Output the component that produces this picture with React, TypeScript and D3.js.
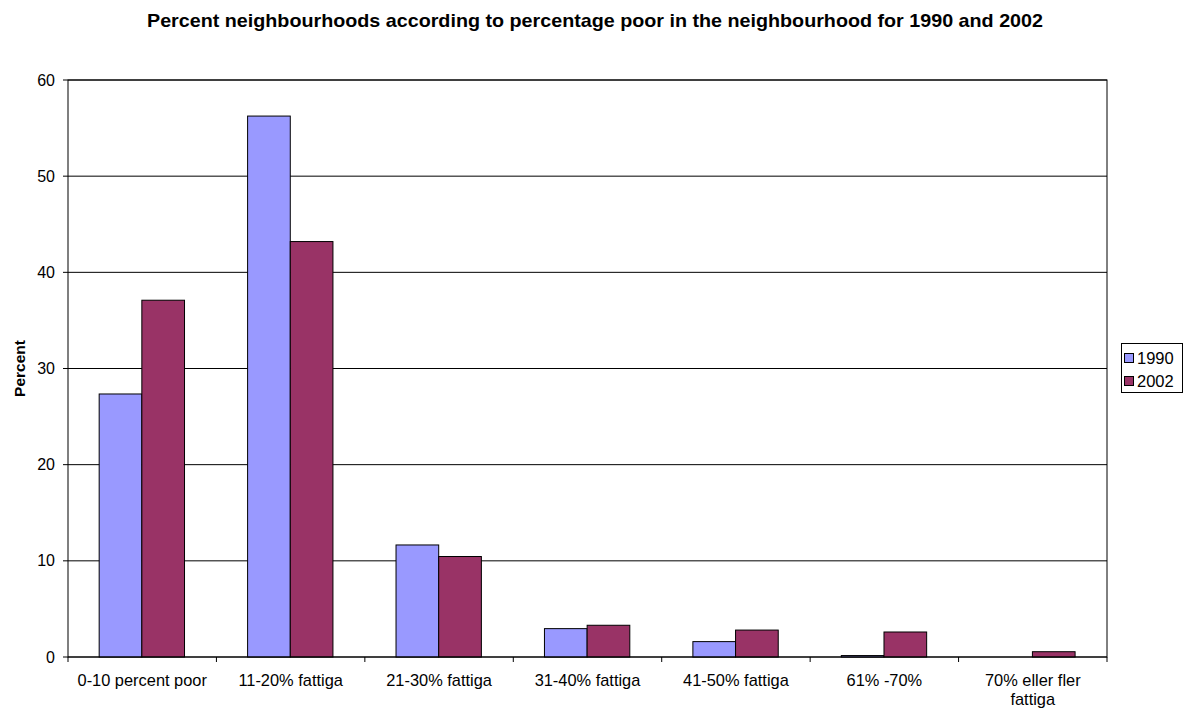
import React from "react";
import * as d3 from "d3";

const categories = [
  ["0-10 percent poor"],
  ["11-20% fattiga"],
  ["21-30% fattiga"],
  ["31-40% fattiga"],
  ["41-50% fattiga"],
  ["61% -70%"],
  ["70% eller fler", "fattiga"],
];
const series1990 = [27.35, 56.25, 11.65, 2.95, 1.6, 0.15, 0];
const series2002 = [37.1, 43.2, 10.45, 3.3, 2.8, 2.6, 0.55];
const seriesNames = ["1990", "2002"];
const seriesColors = ["#9999FF", "#993366"];
const yTicks = [0, 10, 20, 30, 40, 50, 60];
const title = "Percent neighbourhoods according to percentage poor in the neighbourhood for 1990 and 2002";

export default function App() {
  const W = 1185, H = 711;
  const left = 68, right = 1107, top = 80, bottom = 657;
  const idx = categories.map((_, i) => i);
  const x = d3.scaleBand<number>().domain(idx).range([left, right]).paddingInner(0).paddingOuter(0);
  const y = d3.scaleLinear().domain([0, 60]).range([bottom, top]);
  const bw = x.bandwidth();
  const groupOff = bw * 0.21;
  const barW = (bw * 0.575) / 2;
  const font = "'Liberation Sans', Arial, sans-serif";
  const all = [series1990, series2002];
  return (
    <svg width={W} height={H} style={{ position: "absolute", left: 0, top: 0 }} fontFamily={font}>
      <rect x={0} y={0} width={W} height={H} fill="#fff" />
      <text x={147} y={27} fontSize={18.5} fontWeight="bold" textLength={896} lengthAdjust="spacingAndGlyphs">{title}</text>
      {yTicks.map((t) => (
        <g key={t}>
          {t > 0 && <line x1={left} x2={right} y1={y(t)} y2={y(t)} stroke="#000" strokeWidth={1} />}
          <line x1={left - 5} x2={left} y1={y(t)} y2={y(t)} stroke="#000" />
          <text x={left - 13} y={y(t) + 5.5} textAnchor="end" fontSize={16}>{t}</text>
        </g>
      ))}
      <rect x={left} y={top} width={right - left} height={bottom - top} fill="none" stroke="#000" strokeWidth={1} />
      {all.map((s, si) =>
        s.map((v, i) =>
          v > 0 ? (
            <rect key={si + "-" + i} x={(x(i) as number) + groupOff + si * barW} y={y(v)} width={barW} height={bottom - y(v)}
              fill={seriesColors[si]} stroke="#000" strokeWidth={1} />
          ) : null
        )
      )}
      <line x1={left} x2={right} y1={bottom} y2={bottom} stroke="#000" />
      {idx.map((i) => (
        <line key={"t" + i} x1={x(i) as number} x2={x(i) as number} y1={bottom} y2={bottom + 5} stroke="#000" />
      ))}
      <line x1={right} x2={right} y1={bottom} y2={bottom + 5} stroke="#000" />
      {categories.map((lines, i) => (
        <text key={"l" + i} x={(x(i) as number) + bw / 2} y={686} textAnchor="middle" fontSize={16.4}>
          {lines.map((ln, k) => (
            <tspan key={k} x={(x(i) as number) + bw / 2} dy={k === 0 ? 0 : 19}>{ln}</tspan>
          ))}
        </text>
      ))}
      <text transform={`translate(25,${(top + bottom) / 2}) rotate(-90)`} textAnchor="middle" fontSize={15.5} fontWeight="bold">Percent</text>
      <rect x={1121.5} y={343.5} width={61} height={49} fill="#fff" stroke="#000" />
      {seriesNames.map((n, k) => (
        <g key={n}>
          <rect x={1124.5} y={353.5 + k * 23} width={9} height={9} fill={seriesColors[k]} stroke="#000" />
          <text x={1137} y={363.5 + k * 23} fontSize={16.5}>{n}</text>
        </g>
      ))}
    </svg>
  );
}
